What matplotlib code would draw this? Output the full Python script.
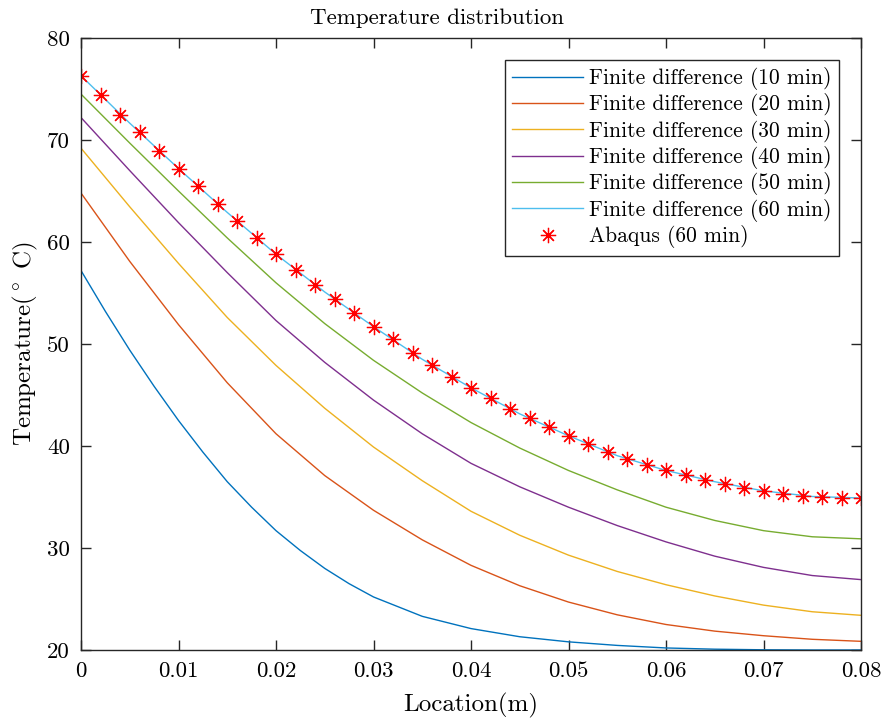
import matplotlib
matplotlib.use("Agg")
import matplotlib.pyplot as plt

# ---------------- data ----------------
x_fd = [0.000, 0.005, 0.010, 0.015, 0.020, 0.025, 0.030, 0.035, 0.040,
        0.045, 0.050, 0.055, 0.060, 0.065, 0.070, 0.075, 0.080]
x_fd10 = [0.000, 0.0025, 0.005, 0.0075, 0.010, 0.0125, 0.015, 0.0175, 0.020,
          0.0225, 0.025, 0.0275, 0.030, 0.035, 0.040, 0.045, 0.050, 0.055,
          0.060, 0.065, 0.070, 0.075, 0.080]
fd_10 = [57.2, 53.2, 49.4, 45.85, 42.5, 39.4, 36.5, 34.0, 31.7,
         29.75, 28.0, 26.5, 25.2, 23.3, 22.1, 21.3, 20.8, 20.45,
         20.2, 20.08, 20.02, 20.0, 20.0]
fd_20 = [64.8, 58.1, 51.9, 46.2, 41.2, 37.1, 33.7, 30.8, 28.3,
         26.3, 24.7, 23.45, 22.5, 21.85, 21.4, 21.05, 20.85]
fd_30 = [69.2, 63.45, 57.9, 52.6, 47.9, 43.7, 39.9, 36.6, 33.6,
         31.25, 29.3, 27.7, 26.4, 25.3, 24.4, 23.75, 23.4]
fd_40 = [72.2, 67.0, 61.9, 57.0, 52.3, 48.2, 44.5, 41.2, 38.3,
         36.0, 34.0, 32.2, 30.6, 29.2, 28.1, 27.3, 26.9]
fd_50 = [74.5, 69.7, 65.0, 60.4, 56.0, 52.0, 48.4, 45.2, 42.3,
         39.8, 37.6, 35.7, 34.0, 32.7, 31.7, 31.1, 30.9]
fd_60 = [76.3, 71.65, 67.2, 62.9, 58.8, 55.1, 51.7, 48.5, 45.7,
         43.15, 41.0, 39.05, 37.6, 36.5, 35.6, 35.05, 34.9]

x_abq = [0.000, 0.002, 0.004, 0.006, 0.008, 0.010, 0.012, 0.014, 0.016, 0.018,
         0.020, 0.022, 0.024, 0.026, 0.028, 0.030, 0.032, 0.034, 0.036, 0.038,
         0.040, 0.042, 0.044, 0.046, 0.048, 0.050, 0.052, 0.054, 0.056, 0.058,
         0.060, 0.062, 0.064, 0.066, 0.068, 0.070, 0.072, 0.074, 0.076, 0.078,
         0.080]
abq_60 = [76.3, 74.4, 72.5, 70.8, 68.9, 67.2, 65.5, 63.7, 62.1, 60.4,
          58.8, 57.3, 55.8, 54.4, 53.0, 51.7, 50.5, 49.1, 47.9, 46.8,
          45.7, 44.7, 43.6, 42.7, 41.9, 41.0, 40.2, 39.4, 38.7, 38.1,
          37.6, 37.2, 36.7, 36.3, 35.9, 35.6, 35.3, 35.1, 35.0, 34.9,
          34.9]

series_x = [x_fd10, x_fd, x_fd, x_fd, x_fd, x_fd]
series = [fd_10, fd_20, fd_30, fd_40, fd_50, fd_60]
labels = ["Finite difference (10 min)", "Finite difference (20 min)",
          "Finite difference (30 min)", "Finite difference (40 min)",
          "Finite difference (50 min)", "Finite difference (60 min)"]
abq_label = "Abaqus (60 min)"
x_ticks = [0, 0.01, 0.02, 0.03, 0.04, 0.05, 0.06, 0.07, 0.08]
y_ticks = [20, 30, 40, 50, 60, 70, 80]

# ---------------- style ----------------
plt.rcParams['font.family'] = ['cmr10', 'DejaVu Serif']
plt.rcParams['mathtext.fontset'] = 'cm'
plt.rcParams['axes.formatter.use_mathtext'] = True
plt.rcParams['axes.unicode_minus'] = False

colors = ['#0072BD', '#D95319', '#EDB120', '#7E2F8E', '#77AC30', '#4DBEEE']
axcol = '#262626'

fig = plt.figure(figsize=(8.85, 7.24), dpi=100)
ax = fig.add_axes([81/885, 1-650/724, (861-81)/885, (650-38)/724])

for xs, ys, c, lab in zip(series_x, series, colors, labels):
    ax.plot(xs, ys, color=c, lw=1.0, label=lab)
ax.plot(x_abq, abq_60, linestyle='none', marker=(8, 2, 0), markersize=11,
        markeredgewidth=0.9, color='red', label=abq_label)

ax.set_xlim(0, 0.08)
ax.set_ylim(20, 80)
ax.set_xticks(x_ticks)
ax.set_yticks(y_ticks)
ax.set_xticklabels(['%g' % v for v in x_ticks])
ax.set_yticklabels(['%g' % v for v in y_ticks])

ax.tick_params(direction='in', length=7, width=1.0, colors=axcol,
               labelsize=16.5, top=True, right=True, pad=8)
for lab in ax.get_xticklabels() + ax.get_yticklabels():
    lab.set_color('black')
for sp in ax.spines.values():
    sp.set_color(axcol)
    sp.set_linewidth(1.0)

ax.set_xlabel('Location(m)', fontsize=18, labelpad=9)
ax.set_ylabel(r'Temperature($^\circ$ C)', fontsize=18, labelpad=5)
ax.set_title('Temperature distribution', fontsize=16.5, pad=10,
             x=(437 - 81) / 780)

leg = ax.legend(loc='upper right', fontsize=15.5, handlelength=3.3,
                handletextpad=0.28, borderaxespad=1.0, labelspacing=0.155,
                borderpad=0.35, fancybox=False, framealpha=1.0)
leg.get_frame().set_edgecolor(axcol)
leg.get_frame().set_linewidth(1.0)

fig.savefig('out.png', dpi=100)
